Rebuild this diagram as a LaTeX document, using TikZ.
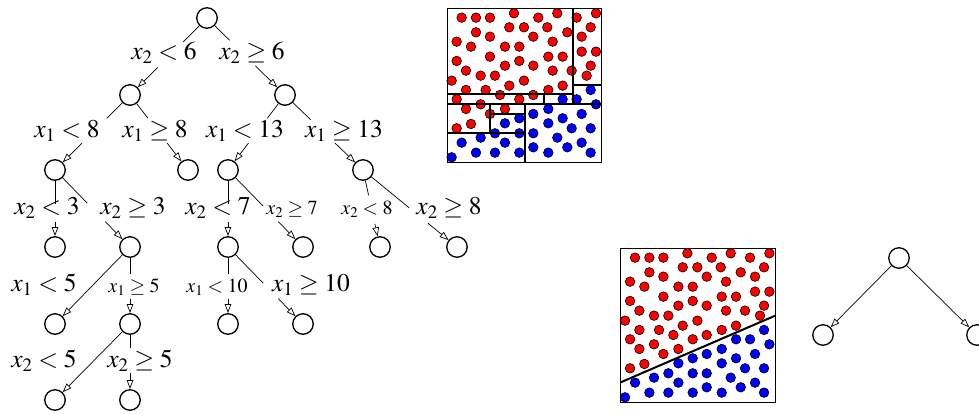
\documentclass[tikz,border=0pt]{standalone}
\usepackage{mathptmx}
\usetikzlibrary{arrows.meta,calc}
\begin{document}
\begin{tikzpicture}[x=1pt,y=-1pt,
 tn/.style={circle,draw,line width=1.3pt,minimum size=20.5pt,inner sep=0pt},
 lab/.style={inner sep=1pt,font=\fontsize{25.5}{30}\selectfont},
 slab/.style={inner sep=1pt,font=\fontsize{20}{24}\selectfont},
 ln/.style={line width=0.7pt},
 arr/.style={line width=0.7pt,-{Triangle[open,length=9pt,width=6.5pt]}},
 rdot/.style={fill=red,draw=black,line width=0.6pt},
 bdot/.style={fill=blue,draw=black,line width=0.6pt},
 split/.style={line width=2pt},
 frame/.style={line width=0.8pt}]
\useasboundingbox (0,0) rectangle (979,413);
% ---------- tree ----------
\node[tn] (r) at (207,18) {};
\node[tn] (L) at (130,95) {};
\node[tn] (R) at (285,95) {};
\node[tn] (LL) at (55,170) {};
\node[tn] (LR) at (188,170) {};
\node[tn] (RL) at (228,170) {};
\node[tn] (RR) at (363,170) {};
\node[tn] (LLL) at (55,247) {};
\node[tn] (LLR) at (130,247) {};
\node[tn] (RLL) at (228,247) {};
\node[tn] (RLR) at (303,247) {};
\node[tn] (RRL) at (380,247) {};
\node[tn] (RRR) at (457,247) {};
\node[tn] (LLRL) at (55,324) {};
\node[tn] (LLRR) at (130,324) {};
\node[tn] (RLLL) at (228,324) {};
\node[tn] (RLLR) at (303,324) {};
\node[tn] (LLRRL) at (55,400) {};
\node[tn] (LLRRR) at (130,400) {};
% labels
\node[lab] (t1) at (164,53) {$x_2<6$};
\node[lab] (t2) at (252,53) {$x_2\geq6$};
\node[lab] (t3) at (67,131) {$x_1<8$};
\node[lab] (t4) at (155,131) {$x_1\geq8$};
\node[lab] (t5) at (245,131) {$x_1<13$};
\node[lab] (t6) at (344,131) {$x_1\geq13$};
\node[lab] (t7) at (47,208) {$x_2<3$};
\node[lab] (t8) at (133,208) {$x_2\geq3$};
\node[lab] (t9) at (218,208) {$x_2<7$};
\node[slab] (t10) at (292,209) {$x_2\geq7$};
\node[slab] (t11) at (367,209) {$x_2<8$};
\node[lab] (t12) at (449,208) {$x_2\geq8$};
\node[lab] (t13) at (44,285) {$x_1<5$};
\node[slab] (t14) at (134,287) {$x_1\geq5$};
\node[slab] (t15) at (217,287) {$x_1<10$};
\node[lab] (t16) at (311,285) {$x_1\geq10$};
\node[lab] (t17) at (44,361) {$x_2<5$};
\node[lab] (t18) at (140,361) {$x_2\geq5$};
% edges
\newcommand\tedge[4]{\draw[ln] (#1) -- ($(#1)!#3!(#2)$);\draw[arr] ($(#1)!#4!(#2)$) -- (#2);}
\tedge{r}{L}{0.31}{0.64}
\tedge{r}{R}{0.29}{0.62}
\tedge{L}{LL}{0.31}{0.64}
\tedge{L}{LR}{0.31}{0.64}
\tedge{R}{RL}{0.31}{0.64}
\tedge{R}{RR}{0.33}{0.64}
\tedge{LL}{LLL}{0.44}{0.67}
\tedge{LL}{LLR}{0.43}{0.67}
\tedge{RL}{RLL}{0.44}{0.67}
\tedge{RL}{RLR}{0.47}{0.67}
\tedge{RR}{RRL}{0.33}{0.70}
\tedge{RR}{RRR}{0.49}{0.69}
\draw[arr] (LLR) -- (LLRL);
\tedge{LLR}{LLRR}{0.35}{0.67}
\tedge{RLL}{RLLL}{0.35}{0.67}
\tedge{RLL}{RLLR}{0.47}{0.67}
\draw[arr] (LLRR) -- (LLRRL);
\tedge{LLRR}{LLRRR}{0.32}{0.65}
% ---------- small tree ----------
\node[tn] (s) at (899,258) {};
\node[tn] (sl) at (823,335) {};
\node[tn] (sr) at (977,335) {};
\draw[arr] (s) -- (sl);
\draw[arr] (s) -- (sr);
% ---------- scatter plots ----------
\def\reddots{105/53,148/53,190/53,262/40,335/53,392/40,450/53,508/40,
148/97,190/110,248/82,292/82,362/82,422/97,465/110,492/82,
90/125,133/140,235/140,278/140,320/110,378/125,
190/170,365/170,408/170,465/155,508/155,
90/183,235/197,278/183,320/197,378/212,435/212,492/197,
118/212,162/227,205/227,480/227,
75/242,248/257,292/242,408/257,
118/270,177/270,220/285,278/298,320/285,365/270,
90/298,162/313,118/327,235/327,190/342,
90/385,133/372}
\def\bluedots{492/270,408/298,450/298,508/313,
365/327,320/342,278/355,235/370,365/370,408/355,465/342,
205/400,162/413,105/428,278/400,320/400,235/428,435/385,492/385,
75/472,148/458,205/458,278/458,320/442,365/458,392/413,422/442,465/428,492/458}
\foreach \ox/\oy in {447.3/8.3,620.7/248.3}{
  \foreach \a/\b in \reddots {\draw[rdot] ({\ox+(\a-62)/3},{\oy+(\b-25)/3}) circle[radius=4.8pt];}
  \foreach \a/\b in \bluedots {\draw[bdot] ({\ox+(\a-62)/3},{\oy+(\b-25)/3}) circle[radius=4.8pt];}
  \draw[frame] (\ox,\oy) rectangle ++(154.4,153.6);
}
% partitions of plot 1
\draw[split] (447.3,104.3) -- (601.7,104.3);
\draw[split] (573.3,8.3) -- (573.3,104.3);
\draw[split] (573.3,84.8) -- (601.7,84.8);
\draw[split] (447.3,94.3) -- (573.3,94.3);
\draw[split] (543.5,94.3) -- (543.5,104.3);
\draw[split] (525,104.3) -- (525,161.9);
\draw[split] (447.3,132.5) -- (525,132.5);
\draw[split] (490.3,104.3) -- (490.3,132.5);
\draw[split] (490.3,114.3) -- (525,114.3);
% separator of plot 2
\draw[split] (620.7,382.3) -- (775.1,315.7);
\end{tikzpicture}
\end{document}
